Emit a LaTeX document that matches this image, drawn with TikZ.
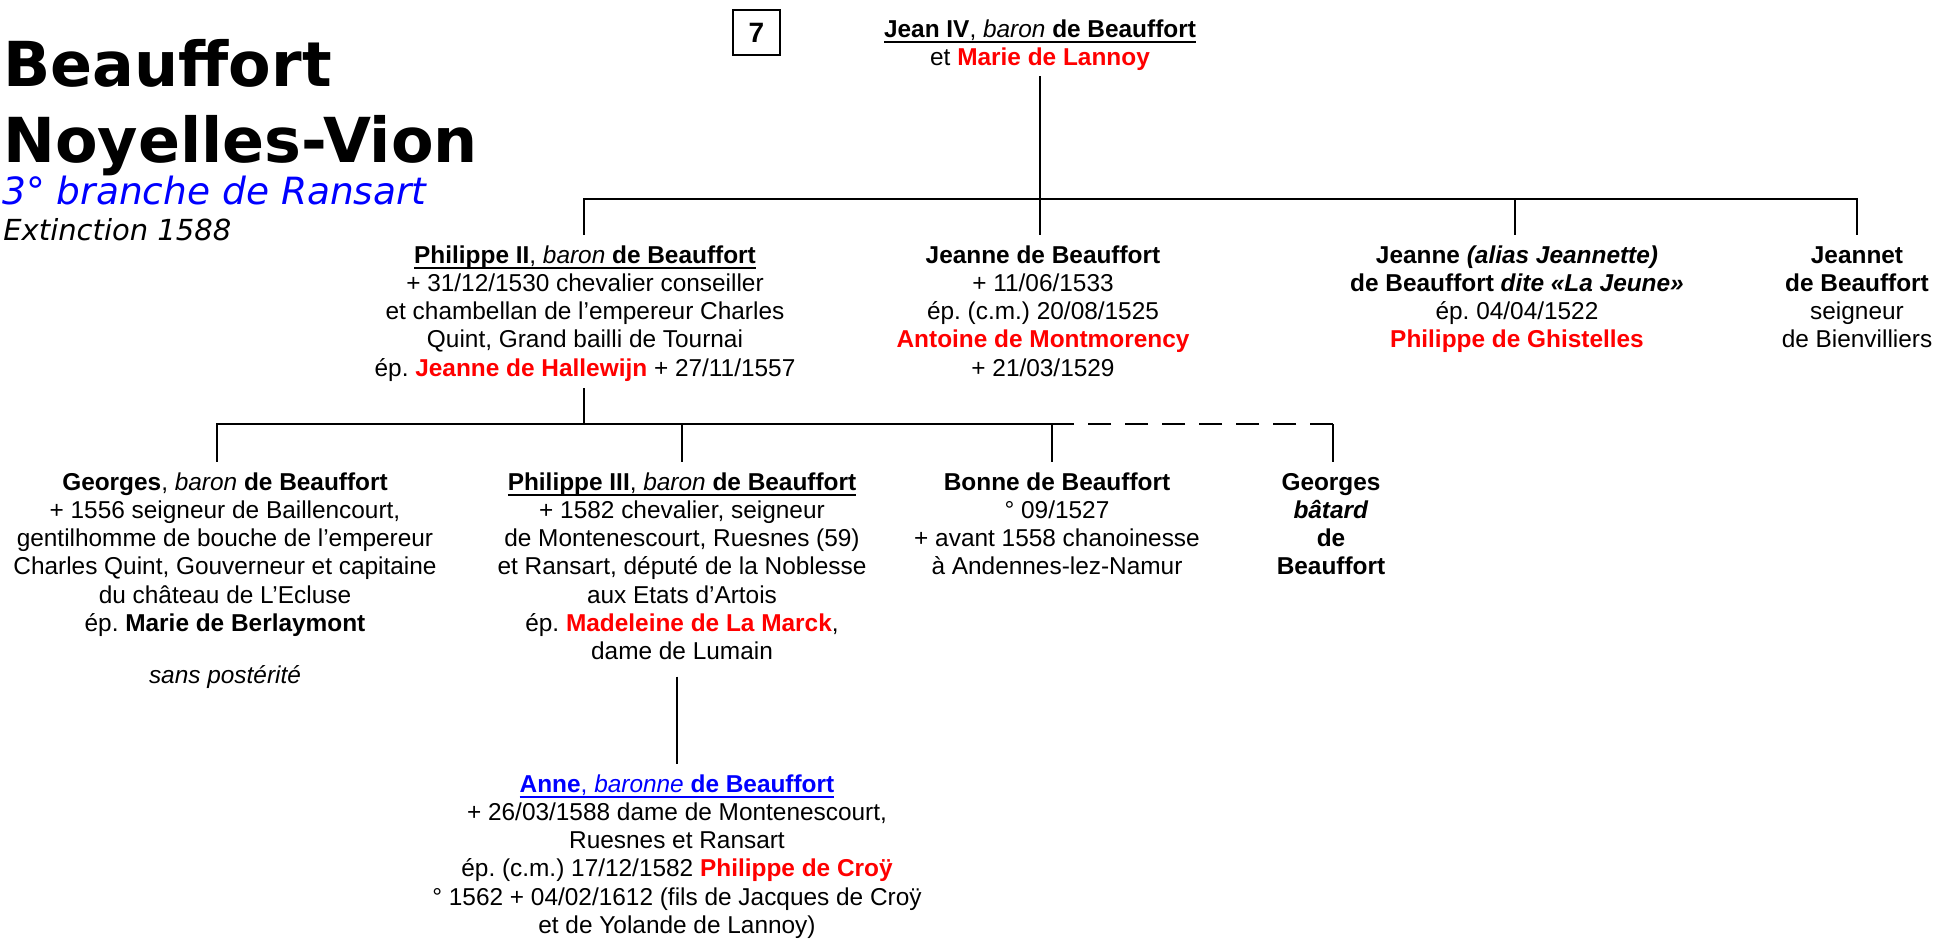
\documentclass[tikz,border=0pt]{standalone}
\usepackage{fontspec}
\setmainfont{Liberation Sans}
\newfontfamily\titlefont{DejaVu Sans}
\usepackage{xcolor}
\definecolor{rd}{RGB}{255,0,0}
\definecolor{bl}{RGB}{0,0,255}
\newsavebox\ulbox
\newcommand\ulx[1]{\sbox\ulbox{#1}\rlap{\rule[-2.9pt]{\wd\ulbox}{0.8pt}}\usebox\ulbox}
\newcommand\pers[1]{\begin{tabular}[t]{@{}c@{}}#1\end{tabular}}
\newcommand\redb[1]{\textcolor{rd}{\textbf{#1}}}
\frenchspacing
\tikzset{
  person/.style={anchor=base, inner xsep=0pt, inner ysep=4pt, font=\fontsize{12.2}{14.15}\selectfont\frenchspacing},
  tree/.style={line width=1pt, black},
  dashline/.style={tree, dash pattern=on 11.5pt off 7pt},
  titlebig/.style={anchor=base west, inner sep=0pt, font=\titlefont\bfseries\fontsize{31}{34}\selectfont},
}
\begin{document}
\begin{tikzpicture}[x=0.5pt,y=-0.5pt]
\useasboundingbox (0,0) rectangle (1938,939);

% title
\node[titlebig] (t1) at (3,86) {Beauffort};
\node[titlebig] (t2) at (3,162) {Noyelles-Vion};
\node[anchor=base west, inner sep=0pt, text=bl, font=\titlefont\itshape\fontsize{18.75}{20}\selectfont] (t3) at (2,204) {3° branche de Ransart};
\node[anchor=base west, inner sep=0pt, font=\titlefont\itshape\fontsize{14.5}{16}\selectfont] (t4) at (3,240) {Extinction 1588};

\node[draw, line width=1pt, minimum width=23.5pt, minimum height=22.5pt, inner sep=0pt, font=\fontsize{14}{16}\selectfont\bfseries] (num) at (756.5,32.5) {7};

% generation 1
\node[person, inner ysep=1pt] (jean) at (1040,37) {\pers{\ulx{\textbf{Jean IV}, \textit{baron} \textbf{de Beauffort}}\\ et \redb{Marie de Lannoy}}};

% generation 2
\node[person] (phil2) at (585,263) {\pers{\ulx{\textbf{Philippe II}, \textit{baron} \textbf{de Beauffort}}\\
+ 31/12/1530 chevalier conseiller\\
et chambellan de l’empereur Charles\\
Quint, Grand bailli de Tournai\\
ép. \redb{Jeanne de Hallewijn} + 27/11/1557}};

\node[person] (jeanne) at (1043,263) {\pers{\textbf{Jeanne de Beauffort}\\
+ 11/06/1533\\
ép. (c.m.) 20/08/1525\\
\redb{Antoine de Montmorency}\\
+ 21/03/1529}};

\node[person] (jalias) at (1517,263) {\pers{\textbf{Jeanne \textit{(alias Jeannette)}}\\
\textbf{de Beauffort \textit{dite «La Jeune»}}\\
ép. 04/04/1522\\
\redb{Philippe de Ghistelles}}};

\node[person] (jeannet) at (1857,263) {\pers{\textbf{Jeannet}\\
\textbf{de Beauffort}\\
seigneur\\
de Bienvilliers}};

% generation 3
\node[person] (georges) at (225,490) {\pers{\textbf{Georges}, \textit{baron} \textbf{de Beauffort}\\
+ 1556 seigneur de Baillencourt,\\
gentilhomme de bouche de l’empereur\\
Charles Quint, Gouverneur et capitaine\\
du château de L’Ecluse\\
ép. \textbf{Marie de Berlaymont}\\[11.7pt]
\textit{sans postérité}}};

\node[person] (phil3) at (682,490) {\pers{\ulx{\textbf{Philippe III}, \textit{baron} \textbf{de Beauffort}}\\
+ 1582 chevalier, seigneur\\
de Montenescourt, Ruesnes (59)\\
et Ransart, député de la Noblesse\\
aux Etats d’Artois\\
ép. \redb{Madeleine de La Marck},\\
dame de Lumain}};

\node[person] (bonne) at (1057,490) {\pers{\textbf{Bonne de Beauffort}\\
° 09/1527\\
+ avant 1558 chanoinesse\\
à Andennes-lez-Namur}};

\node[person] (gbat) at (1331,490) {\pers{\textbf{Georges}\\
\textbf{\textit{bâtard}}\\
\textbf{de}\\
\textbf{Beauffort}}};

% generation 4
\node[person] (anne) at (677,792) {\pers{\textcolor{bl}{\ulx{\textbf{Anne}, \textit{baronne} \textbf{de Beauffort}}}\\
+ 26/03/1588 dame de Montenescourt,\\
Ruesnes et Ransart\\
ép. (c.m.) 17/12/1582 \redb{Philippe de Croÿ}\\
° 1562 + 04/02/1612 (fils de Jacques de Croÿ\\
et de Yolande de Lannoy)}};

% connectors
\coordinate (p1a) at (584,199);
\coordinate (k1) at (1040,199);
\coordinate (p1c) at (1515,199);
\coordinate (p1d) at (1857,199);
\draw[tree] (p1a |- phil2.north) -- (p1a) -- (p1d) -- (p1d |- jeannet.north);
\draw[tree] (jean.south) -- (k1 |- jeanne.north);
\draw[tree] (p1c) -- (p1c |- jalias.north);

\coordinate (p2a) at (217,424);
\coordinate (p2b) at (682,424);
\coordinate (p2c) at (1052,424);
\coordinate (p2d) at (1333,424);
\draw[tree, shorten <=-2.5pt] (p1a |- phil2.south) -- (p1a |- p2a);
\draw[tree] (p2a |- georges.north) -- (p2a) -- (p2c) -- (p2c |- bonne.north);
\draw[tree] (p2b) -- (p2b |- phil3.north);
\draw[dashline] (p2d) -- (p2c);
\draw[tree] (p2d) -- (p2d |- gbat.north);

\draw[tree] (anne.north |- phil3.south) -- (anne.north);
\end{tikzpicture}
\end{document}
